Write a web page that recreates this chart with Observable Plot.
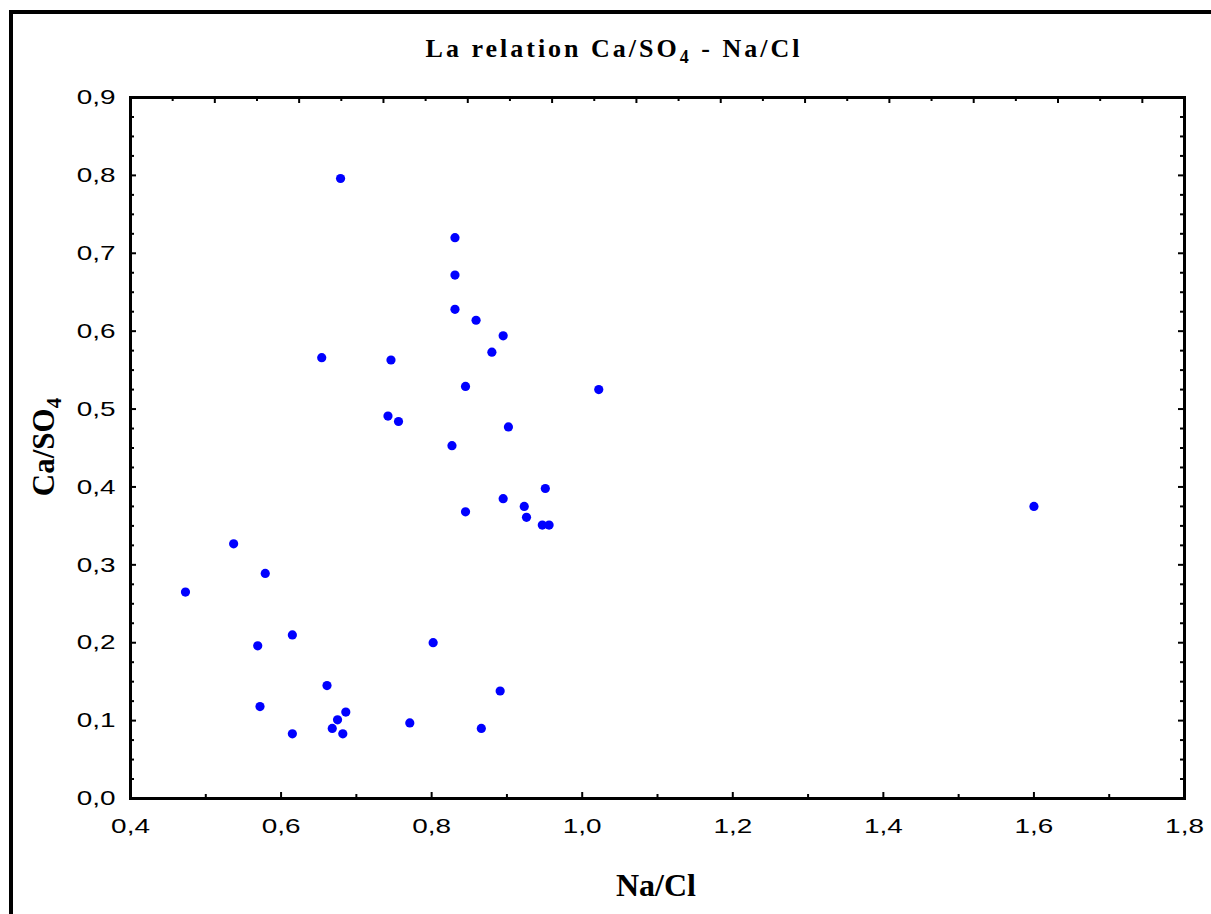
<!DOCTYPE html>
<html>
<head>
<meta charset="utf-8">
<script src="https://cdn.jsdelivr.net/npm/d3@7"></script>
<script src="https://cdn.jsdelivr.net/npm/@observablehq/plot@0.6"></script>
<style>
  html, body { margin: 0; padding: 0; background: #ffffff; }
  #wrap { position: relative; width: 1211px; height: 914px; overflow: hidden; background: #ffffff; }
  #border { position: absolute; left: 9px; top: 10px; width: 3000px; height: 3000px; border: 4px solid #000; pointer-events: none; }
  #wrap svg { position: absolute; left: 0; top: 0; }
</style>
</head>
<body>
<div id="wrap"><div id="border"></div></div>
<script>
// Data
const naCl = [0.537,0.579,0.473,0.615,0.569,0.802,0.661,0.891,0.572,0.686,0.675,0.668,0.682,0.615,0.771,0.866,
              0.679,0.831,0.831,0.831,0.859,0.895,0.880,0.654,0.746,0.845,1.022,0.742,0.756,0.902,0.827,
              0.951,0.895,0.845,0.923,0.926,0.947,0.956,1.600];
const caSO4 = [0.327,0.289,0.265,0.210,0.196,0.200,0.145,0.138,0.118,0.111,0.101,0.090,0.083,0.083,0.097,0.090,
               0.796,0.720,0.672,0.628,0.614,0.594,0.573,0.566,0.563,0.529,0.525,0.491,0.484,0.477,0.453,
               0.398,0.385,0.368,0.375,0.361,0.351,0.351,0.375];

// Axes / tick labels
const xTickLabels = [0.4, 0.6, 0.8, 1.0, 1.2, 1.4, 1.6, 1.8];
const yTickLabels = [0.0, 0.1, 0.2, 0.3, 0.4, 0.5, 0.6, 0.7, 0.8, 0.9];
const xMinorTicks = [0.5, 0.7, 0.9, 1.1, 1.3, 1.5, 1.7];
const yMinorTicks = d3.range(0, 0.9001, 0.025).filter(v => Math.abs(v * 10 - Math.round(v * 10)) > 1e-6);
const topTicks = d3.range(0, 26).map(i => ({v: 0.4 + i * 0.056, major: i % 2 === 0}));

const titleText = "La relation Ca/SO";
const xLabel = "Na/Cl";
const yLabel = "Ca/SO";

const points = naCl.map((x, i) => ({x, y: caSO4[i]}));
const fmt = d => d.toFixed(1).replace(".", ",");

const W = 1211, H = 914, mL = 130, mR = 27, mT = 97, mB = 116;
const pw = W - mL - mR, ph = H - mT - mB;

const chart = Plot.plot({
  width: W, height: H,
  marginLeft: mL, marginRight: mR, marginTop: mT, marginBottom: mB,
  x: {domain: [0.4, 1.8]},
  y: {domain: [0, 0.9]},
  style: {fontFamily: "'Liberation Sans', Arial, sans-serif", fontSize: "21px", color: "#000", background: "transparent"},
  marks: [
    Plot.axisX(xTickLabels, {tickSize: 0, tickPadding: 20, tickFormat: fmt, label: null, fontSize: 21}),
    Plot.axisY(yTickLabels, {tickSize: 0, tickPadding: 15, tickFormat: fmt, label: null, fontSize: 21}),
    // bottom ticks (inward)
    Plot.tickX(xTickLabels, {x: d => d, insetTop: ph - 6, stroke: "#000", strokeWidth: 2}),
    Plot.tickX(xMinorTicks, {x: d => d, insetTop: ph - 4, stroke: "#000", strokeWidth: 2}),
    // top ticks (inward)
    Plot.tickX(topTicks.filter(d => d.major), {x: "v", insetBottom: ph - 6, stroke: "#000", strokeWidth: 2}),
    Plot.tickX(topTicks.filter(d => !d.major), {x: "v", insetBottom: ph - 4, stroke: "#000", strokeWidth: 2}),
    // left ticks
    Plot.tickY(yTickLabels, {y: d => d, insetRight: pw - 6, stroke: "#000", strokeWidth: 2}),
    Plot.tickY(yMinorTicks, {y: d => d, insetRight: pw - 4, stroke: "#000", strokeWidth: 2}),
    // right ticks
    Plot.tickY(yTickLabels, {y: d => d, insetLeft: pw - 6, stroke: "#000", strokeWidth: 2}),
    Plot.tickY(yMinorTicks, {y: d => d, insetLeft: pw - 4, stroke: "#000", strokeWidth: 2}),
    Plot.frame({stroke: "#000", strokeWidth: 3}),
    Plot.dot(points, {x: "x", y: "y", r: 4.6, fill: "#0000ff", stroke: null})
  ]
});

const wrap = document.getElementById("wrap");
wrap.insertBefore(chart, wrap.firstChild);

const svg = d3.select(chart);
// widen tick-label glyphs like the reference (stretch each label in place)
svg.selectAll('g[aria-label$="tick label"] text').each(function() {
  const w = this.getComputedTextLength();
  if (w > 0) {
    this.setAttribute("textLength", (w * 1.33).toFixed(1));
    this.setAttribute("lengthAdjust", "spacingAndGlyphs");
  }
});

const serif = "'Liberation Serif', 'Times New Roman', serif";

// Title
const t = svg.append("text")
  .attr("x", 614).attr("y", 57)
  .attr("text-anchor", "middle")
  .attr("font-family", serif).attr("font-weight", "bold").attr("font-size", 26)
  .attr("letter-spacing", 3).attr("fill", "#000");
t.append("tspan").text(titleText);
t.append("tspan").attr("dy", 6).attr("font-size", 18).text("4");
t.append("tspan").attr("dy", -6).text(" - Na/Cl");

// X label
svg.append("text")
  .attr("x", 656).attr("y", 896)
  .attr("text-anchor", "middle")
  .attr("font-family", serif).attr("font-weight", "bold").attr("font-size", 32)
  .attr("fill", "#000").text(xLabel);

// Y label
const yl = svg.append("text")
  .attr("transform", "translate(54,447) rotate(-90)")
  .attr("text-anchor", "middle")
  .attr("font-family", serif).attr("font-weight", "bold").attr("font-size", 31)
  .attr("fill", "#000");
yl.append("tspan").text(yLabel);
yl.append("tspan").attr("dy", 7).attr("font-size", 21).text("4");
</script>
</body>
</html>
